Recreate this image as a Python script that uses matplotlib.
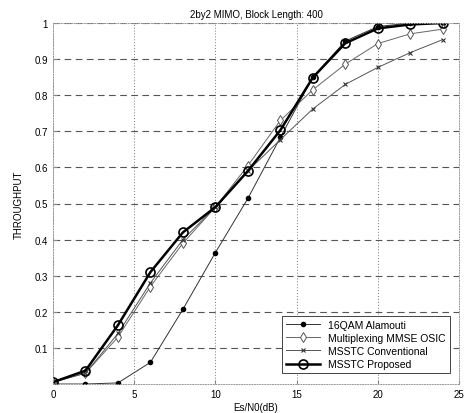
import matplotlib.pyplot as plt
import numpy as np

# Es/N0 points (dB)
snr = [0, 2, 4, 6, 8, 10, 12, 14, 16, 18, 20, 22, 24]

# throughput
alamouti = [0.0, 0.0, 0.003, 0.06, 0.207, 0.364, 0.514, 0.683, 0.85, 0.95, 0.99, 1.0, 1.0]
mmse_osic = [0.005, 0.03, 0.13, 0.27, 0.39, 0.49, 0.605, 0.73, 0.815, 0.886, 0.943, 0.97, 0.983]
msstc_conv = [0.005, 0.03, 0.14, 0.28, 0.40, 0.49, 0.59, 0.677, 0.762, 0.83, 0.877, 0.918, 0.954]
msstc_prop = [0.005, 0.037, 0.163, 0.31, 0.42, 0.49, 0.59, 0.703, 0.849, 0.944, 0.985, 0.996, 1.0]

plt.rcParams['font.family'] = 'Liberation Sans'

fig = plt.figure(figsize=(4.66, 4.14), dpi=100)
ax = fig.add_axes([53/466, 1-385/414, (459-53)/466, (385-24)/414])

ax.plot(snr, alamouti, color='#333333', lw=0.7, marker='o', ms=3,
        mfc='black', mec='black', label='16QAM Alamouti')
ax.plot(snr, mmse_osic, color='#666666', lw=0.7, marker='d', ms=5,
        mfc='white', mec='#555555', mew=0.7, label='Multiplexing MMSE OSIC')
ax.plot(snr, msstc_conv, color='#555555', lw=0.7, marker='x', ms=3.5,
        mec='#333333', mew=0.8, label='MSSTC Conventional')
ax.plot(snr, msstc_prop, color='black', lw=1.8, marker='o', ms=6.5,
        mfc='none', mec='black', mew=1.2, label='MSSTC Proposed')

ax.set_xlim(0, 25)
ax.set_ylim(0, 1)
ax.set_xticks(np.arange(0, 26, 5))
ax.set_yticks([0.1, 0.2, 0.3, 0.4, 0.5, 0.6, 0.7, 0.8, 0.9, 1.0])
ax.set_yticklabels(['0.1', '0.2', '0.3', '0.4', '0.5', '0.6', '0.7', '0.8', '0.9', '1'])
ax.tick_params(direction='in', labelsize=7, length=3, color='#888888')

# dashed horizontal grid, dotted vertical grid
ax.yaxis.grid(True, linestyle=(0, (6, 4)), color='#555555', lw=0.8)
ax.xaxis.grid(True, linestyle=(0, (1, 2)), color='#777777', lw=0.7)
for s in ax.spines.values():
    s.set_color('#999999')
    s.set_linewidth(0.7)
    s.set_linestyle(':')

ax.set_title('2by2 MIMO, Block Length: 400', fontsize=7, pad=4)
ax.set_xlabel('Es/N0(dB)', fontsize=7, labelpad=2)
ax.set_ylabel('THROUGHPUT', fontsize=7, labelpad=8)

leg = ax.legend(loc='lower right', fontsize=7.5, fancybox=False, framealpha=1,
                edgecolor='#444444', borderpad=0.4, labelspacing=0.3,
                handlelength=3.2, bbox_to_anchor=(0.99, 0.015))
leg.get_frame().set_linewidth(0.7)

fig.savefig('out.png', dpi=100)
